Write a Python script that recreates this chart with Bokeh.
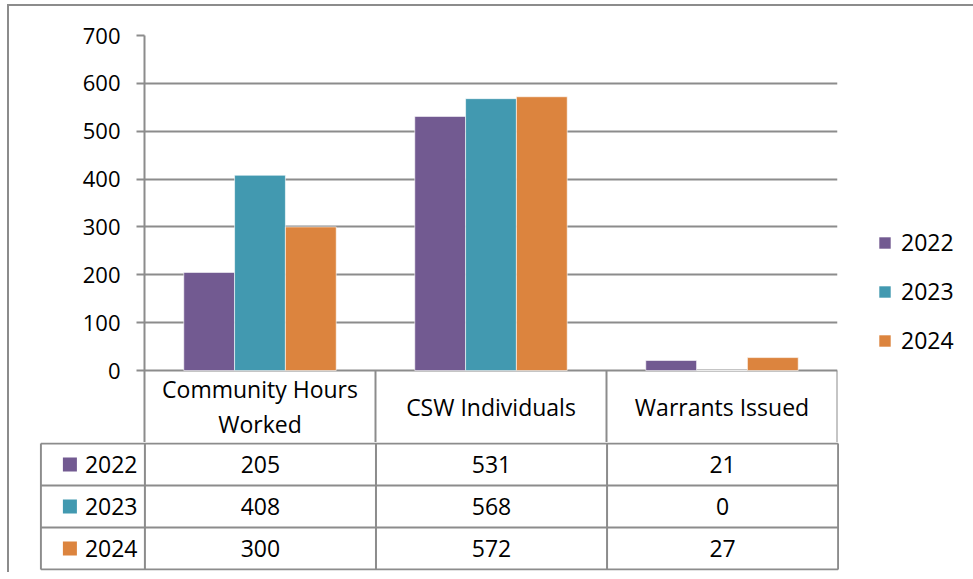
from bokeh.plotting import figure
from bokeh.models import Range1d, FactorRange, FixedTicker, ColumnDataSource, Legend, LegendItem
from bokeh.transform import dodge
from bokeh.embed import file_html
from bokeh.resources import INLINE
from bokeh.core.properties import value

# ---------------- data ----------------
categories = ["Community Hours Worked", "CSW Individuals", "Warrants Issued"]
header_labels = ["Community Hours\nWorked", "CSW Individuals", "Warrants Issued"]
years = ["2022", "2023", "2024"]
values_2022 = [205, 531, 21]
values_2023 = [408, 568, 0]
values_2024 = [300, 572, 27]
y_ticks = [0, 100, 200, 300, 400, 500, 600, 700]
colors = ["#725A91", "#4299B0", "#DC843E"]

series = [values_2022, values_2023, values_2024]

# ---------------- style / layout ----------------
FONT = "Open Sans"
FS = "23px"
TICK_FS = "22px"
GRAY = "#8c8c8c"
PX_PER_CAT = 231
FRAME_W = PX_PER_CAT * len(categories)
PLOT_H = 335
HEADER_H = 72
Y_MAX = y_ticks[-1]
header_bottom = -HEADER_H * Y_MAX / PLOT_H
BAR_W = 0.22
LABEL_COL_PX = 104
LEFT = 135
TOP = 29
OUTER = {"margin-left": "7px", "border-left": "2px solid #8c8c8c"}

# ---------------- chart (bars + header row) ----------------
p = figure(x_range=FactorRange(*categories), y_range=Range1d(header_bottom, Y_MAX),
           frame_width=FRAME_W, frame_height=PLOT_H + HEADER_H,
           min_border_left=LEFT, min_border_top=TOP, min_border_bottom=0, min_border_right=10,
           output_backend="svg", toolbar_location=None)
p.styles = dict(OUTER, **{"margin-top": "4px", "border-top": "2px solid #8c8c8c"})
p.outline_line_color = None
p.background_fill_color = "white"
p.border_fill_color = "white"
p.xaxis.visible = False
p.xgrid.visible = False

p.yaxis.ticker = FixedTicker(ticks=y_ticks)
p.yaxis.axis_line_color = GRAY
p.yaxis.axis_line_width = 2
p.yaxis.major_tick_line_color = GRAY
p.yaxis.major_tick_line_width = 2
p.yaxis.major_tick_out = 8
p.yaxis.major_tick_in = 0
p.yaxis.minor_tick_line_color = None
p.yaxis.major_label_text_font = FONT
p.yaxis.major_label_text_font_size = TICK_FS
p.yaxis.major_label_text_color = "black"
p.yaxis.major_label_standoff = 16
p.ygrid.grid_line_color = GRAY
p.ygrid.grid_line_width = 2

items = []
for i, (yr, vals, col) in enumerate(zip(years, series, colors)):
    src = ColumnDataSource(dict(cat=categories, val=vals))
    off = (i - (len(years) - 1) / 2) * BAR_W
    r = p.vbar(x=dodge("cat", off, range=p.x_range), top="val", bottom=0, width=BAR_W,
               source=src, fill_color=col, line_color="white", line_width=0.6)
    items.append(LegendItem(label=yr, renderers=[r]))

# header cell borders (right edge of each category)
hsrc = ColumnDataSource(dict(cat=categories, lab=header_labels,
                             y0=[header_bottom] * len(categories), y1=[0] * len(categories),
                             ym=[header_bottom / 2] * len(categories)))
p.segment(x0=dodge("cat", 0.5, range=p.x_range), x1=dodge("cat", 0.5, range=p.x_range),
          y0="y0", y1="y1", source=hsrc, line_color=GRAY, line_width=2)
p.text(x="cat", y="ym", text="lab", source=hsrc, text_align="center",
       text_baseline="middle", text_font=value(FONT), text_font_size=FS,
       text_color="black", text_line_height=1.1)

lg = Legend(items=items, location=(40, 86), margin=0, padding=0,
            border_line_color=None, background_fill_alpha=0,
            glyph_width=15, glyph_height=15, label_standoff=9,
            label_height=24, spacing=17,
            label_text_font=FONT, label_text_font_size=FS, label_text_color="black")
p.add_layout(lg, "right")

# ---------------- data table ----------------
n_rows = len(years)
n_cols = len(categories)
lab_left = -LABEL_COL_PX / PX_PER_CAT
pad_x = 0.006
pad_y = 0.025
t_x = Range1d(lab_left - pad_x, n_cols + pad_x)
t_y = Range1d(n_rows + pad_y, -pad_y)
ROW_PX = 42
t = figure(x_range=t_x, y_range=t_y,
           frame_width=round((n_cols - lab_left + 2 * pad_x) * PX_PER_CAT),
           frame_height=round((n_rows + 2 * pad_y) * ROW_PX),
           min_border_left=round(LEFT + (lab_left - pad_x) * PX_PER_CAT),
           min_border_right=0, min_border_top=0, min_border_bottom=2,
           output_backend="svg", toolbar_location=None)
t.styles = dict(OUTER)
t.axis.visible = False
t.grid.visible = False
t.outline_line_color = None
t.background_fill_color = "white"
t.border_fill_color = "white"

# horizontal rules
rows_b = list(range(n_rows + 1))
t.segment(x0=[lab_left] * len(rows_b), x1=[n_cols] * len(rows_b), y0=rows_b, y1=rows_b,
          line_color=GRAY, line_width=2)
# vertical rules
cols_b = [lab_left] + list(range(n_cols + 1))
t.segment(x0=cols_b, x1=cols_b, y0=[0] * len(cols_b), y1=[n_rows] * len(cols_b),
          line_color=GRAY, line_width=2)

# values
vx, vy, vt = [], [], []
for r, vals in enumerate(series):
    for c, v in enumerate(vals):
        vx.append(c + 0.5)
        vy.append(r + 0.5)
        vt.append(str(v))
t.text(x=vx, y=vy, text=vt, text_align="center", text_baseline="middle",
       text_font=value(FONT), text_font_size=FS, text_color="black")

# row labels with colour keys
row_y = [r + 0.5 for r in range(n_rows)]
t.scatter(x=[lab_left + 29 / PX_PER_CAT] * n_rows, y=row_y, marker="square", size=14,
          fill_color=colors, line_color=None)
t.text(x=[lab_left + 44 / PX_PER_CAT] * n_rows, y=row_y, text=years, text_align="left",
       text_baseline="middle", text_font=value(FONT), text_font_size=FS, text_color="black")

open("out.html", "w").write(file_html([p, t], INLINE))
